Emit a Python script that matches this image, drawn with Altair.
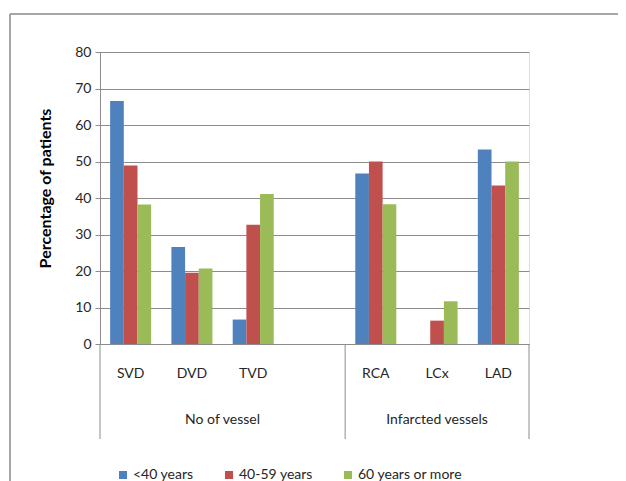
import altair as alt
import pandas as pd

categories = ["SVD", "DVD", "TVD", " ", "RCA", "LCx", "LAD"]
data_categories = ["SVD", "DVD", "TVD", "RCA", "LCx", "LAD"]
series = ["<40 years", "40-59 years", "60 years or more"]
under40 = [66.6, 26.6, 6.7, 46.7, 0.0, 53.3]
age40_59 = [48.9, 19.5, 32.7, 50.0, 6.4, 43.4]
over60 = [38.2, 20.7, 41.1, 38.3, 11.7, 50.0]
groups = ["No of vessel", "Infarcted vessels"]
colors = ["#4F81BD", "#C0504D", "#9BBB59"]

rows = []
for s, vals in zip(series, [under40, age40_59, over60]):
    for c, v in zip(data_categories, vals):
        rows.append({"cat": c, "series": s, "value": v})
df = pd.DataFrame(rows)

W, H = 429, 292
GRAY = "#8c8c8c"
TXT = "#262626"
FONT = "Lato"

xscale = alt.Scale(type="band", domain=categories, paddingInner=0, paddingOuter=0)

bars = alt.Chart(df).mark_bar().encode(
    x=alt.X("cat:N", scale=xscale, sort=categories,
            axis=alt.Axis(title=None, ticks=False, domain=True, domainColor=GRAY,
                          labelPadding=22, labelAngle=0, labelFontSize=14,
                          labelColor=TXT, labelFont=FONT)),
    xOffset=alt.XOffset("series:N", sort=series,
                        scale=alt.Scale(domain=series, paddingInner=0, paddingOuter=0.74)),
    y=alt.Y("value:Q", scale=alt.Scale(domain=[0, 80]),
            axis=alt.Axis(values=list(range(0, 81, 10)), title="Percentage of patients",
                          grid=True, gridColor=GRAY, domainColor=GRAY, tickColor=GRAY,
                          tickSize=5, labelFontSize=14, labelColor=TXT, labelFont=FONT,
                          labelPadding=4, titleFont=FONT, titleFontSize=16,
                          titleFontWeight="bold", titleColor="#000000",
                          titleAngle=270, titleAlign="center", titleBaseline="middle",
                          titleX=-55, titleY=136)),
    color=alt.Color("series:N", sort=series,
                    scale=alt.Scale(domain=series, range=colors),
                    legend=alt.Legend(title=None, orient="none", legendX=16, legendY=416,
                                      direction="horizontal", columns=3,
                                      symbolType="square", symbolSize=64,
                                      symbolStrokeWidth=0, columnPadding=28,
                                      labelOffset=3, labelFontSize=14,
                                      labelColor=TXT, labelFont=FONT)),
)

left_df = pd.DataFrame({"cat": ["SVD", "RCA"]})
right_df = pd.DataFrame({"cat": ["LAD"]})
rules_left = alt.Chart(left_df).mark_rule(color=GRAY, strokeWidth=1).encode(
    x=alt.X("cat:N", scale=xscale, bandPosition=0),
    y=alt.value(H), y2=alt.value(H + 95))
rules_right = alt.Chart(right_df).mark_rule(color=GRAY, strokeWidth=1).encode(
    x=alt.X("cat:N", scale=xscale, bandPosition=1),
    y=alt.value(H), y2=alt.value(H + 95))

g1 = alt.Chart(pd.DataFrame({"cat": ["DVD"], "label": [groups[0]]})).mark_text(
    fontSize=14, font=FONT, color=TXT, baseline="middle").encode(
    x=alt.X("cat:N", scale=xscale, bandPosition=1), y=alt.value(H + 76), text="label:N")
g2 = alt.Chart(pd.DataFrame({"cat": ["LCx"], "label": [groups[1]]})).mark_text(
    fontSize=14, font=FONT, color=TXT, baseline="middle").encode(
    x=alt.X("cat:N", scale=xscale, bandPosition=0.5), y=alt.value(H + 76), text="label:N")

frame_top = alt.Chart(pd.DataFrame({"a": [0]})).mark_rule(
    color="#8a8a8a", strokeWidth=1.5).encode(
    x=alt.value(-90), x2=alt.value(700), y=alt.value(-38))
frame_left = alt.Chart(pd.DataFrame({"a": [0]})).mark_rule(
    color="#8a8a8a", strokeWidth=1.5).encode(
    x=alt.value(-90), y=alt.value(-38), y2=alt.value(700))

chart = alt.layer(frame_top, frame_left, bars, rules_left, rules_right, g1, g2).properties(
    width=W, height=H,
    autosize=alt.AutoSizeParams(type="none"),
    padding={"left": 92, "top": 44, "right": 89, "bottom": 137},
).configure_view(stroke=None).configure(background="white")

chart.save("out.html", embed_options={"renderer": "svg", "actions": False})
